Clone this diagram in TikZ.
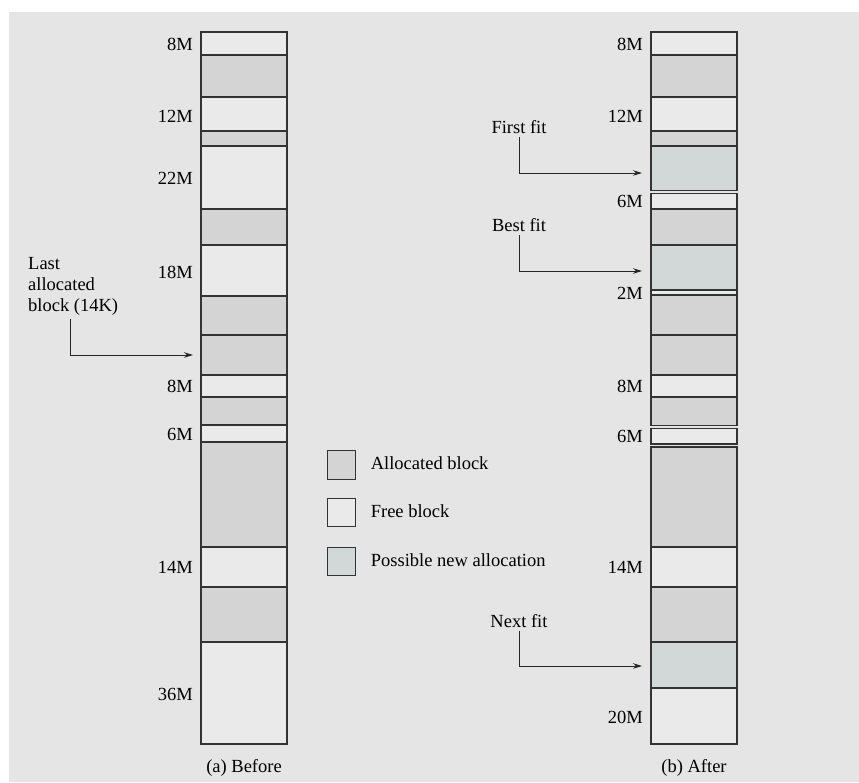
\documentclass[tikz,border=0pt]{standalone}
\usepackage{fontspec}
\setmainfont{Liberation Serif}
\usetikzlibrary{positioning,arrows.meta}
\definecolor{bggray}{HTML}{E5E5E5}
\definecolor{freegray}{HTML}{EAEAEA}
\definecolor{allocgray}{HTML}{D4D4D4}
\definecolor{newgray}{HTML}{D2D8D8}
\tikzset{
  blk/.style={draw=black!80,line width=1.1pt},
  size/.style={anchor=east,inner sep=0pt},
  ptr/.style={draw=black!85,line width=1pt,-{Stealth[length=9pt,width=5.5pt]}},
  legbox/.style={blk,minimum size=28.5pt,inner sep=0pt},
  legtext/.style={right=11pt of #1,text height=13pt,text depth=4pt},
}
\begin{document}
\begin{tikzpicture}[x=1pt,y=-1pt,font=\fontsize{18.5}{21}\selectfont]
  \useasboundingbox (0,0) rectangle (859,782);
  \fill[bggray] (9,12) rectangle (859,782);

  % (a) before
  \foreach \t/\b/\c in {32/55/freegray,55/97/allocgray,97/131/freegray,
      131/146/allocgray,146/209/freegray,209/245/allocgray,245/296/freegray,
      296/335/allocgray,335/375/allocgray,375/397/freegray,397/425/allocgray,
      425/442/freegray,442/547/allocgray,547/587/freegray,587/642/allocgray,
      642/744/freegray}
    \draw[blk,fill=\c] (201,\t) rectangle (287,\b);
  \foreach \y/\m [count=\i] in {44/8M,116/12M,178/22M,272/18M,386/8M,434/6M,567/14M,694/36M}
    \node[size] (sa\i) at (193,\y) {\m};

  % (b) after
  \foreach \t/\b/\c in {32/55/freegray,55/97/allocgray,97/131/freegray,
      131/146/allocgray,146/190.5/newgray,193.5/209/freegray,209/245/allocgray,
      245/290/newgray,290/295/freegray,295/335/allocgray,335/375/allocgray,
      375/397/freegray,397/425.5/allocgray,428.5/444/freegray,447/547/allocgray,
      547/587/freegray,587/642/allocgray,642/688/newgray,688/744/freegray}
    \draw[blk,fill=\c] (651,\t) rectangle (737,\b);
  \foreach \y/\m [count=\i] in {44/8M,116/12M,201/6M,293/2M,386/8M,436/6M,567/14M,717/20M}
    \node[size] (sb\i) at (643,\y) {\m};

  % pointers
  \node[anchor=north west,align=left,inner sep=0pt] (last) at (28,257) {Last\\allocated\\block (14K)};
  \node (first) at (519,127) {First fit};
  \node (best) at (519,225) {Best fit};
  \node (next) at (519,621) {Next fit};
  \coordinate (lastend) at (193,355);
  \coordinate (firstend) at (642,173);
  \coordinate (bestend) at (642,271);
  \coordinate (nextend) at (642,666);
  \draw[ptr] ([xshift=42pt,yshift=-4pt]last.south west) |- (lastend);
  \draw[ptr] (first.south) |- (firstend);
  \draw[ptr] (best.south) |- (bestend);
  \draw[ptr] (next.south) |- (nextend);

  % key
  \node[legbox,fill=allocgray] (kalloc) at (341.5,465) {};
  \node[legbox,fill=freegray] (kfree) at (341.5,512.5) {};
  \node[legbox,fill=newgray] (knew) at (341.5,561.5) {};
  \node[legtext=kalloc] (kalloctxt) {Allocated block};
  \node[legtext=kfree] (kfreetxt) {Free block};
  \node[legtext=knew] (knewtxt) {Possible new allocation};

  \node (capa) at (244,768) {(a) Before};
  \node (capb) at (694,768) {(b) After};
\end{tikzpicture}
\end{document}
